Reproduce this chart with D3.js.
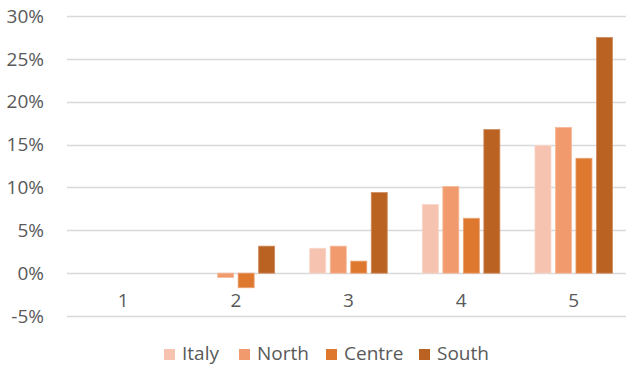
<!DOCTYPE html>
<html>
<head>
<meta charset="utf-8">
<script src="https://cdn.jsdelivr.net/npm/d3@7"></script>
<style>
  body { margin: 0; background: #fff; }
  svg { display: block; font-family: "Open Sans", Lato, sans-serif; }
</style>
</head>
<body>
<svg id="chart"></svg>
<script>
const categories = ["1", "2", "3", "4", "5"];
const seriesNames = ["Italy", "North", "Centre", "South"];
const italy  = [0, 0, 0.029, 0.080, 0.149];
const north  = [0, -0.005, 0.0315, 0.101, 0.170];
const centre = [0, -0.017, 0.014, 0.064, 0.134];
const south  = [0, 0.0315, 0.094, 0.1675, 0.275];
const yTicks = [-0.05, 0, 0.05, 0.10, 0.15, 0.20, 0.25, 0.30];

const colors = ["#F5C3B0", "#F09A6E", "#DF782F", "#B96222"];
const strokes = ["#F8D6C9", "#F5B99A", "#EBA070", "#D08A5C"];

const width = 626, height = 365;
const margin = { top: 16, right: 0, bottom: 49, left: 67 };

const svg = d3.select("#chart").attr("width", width).attr("height", height);

const values = [italy, north, centre, south];
const rows = categories.map((c, i) => ({
  cat: c,
  vals: seriesNames.map((s, j) => ({ key: s, idx: j, value: values[j][i] }))
}));

const x0 = d3.scaleBand()
  .domain(categories)
  .range([margin.left, margin.left + 5 * 112.6])
  .padding(0);

const groupW = 77.5;
const x1 = d3.scaleBand()
  .domain(seriesNames)
  .range([0, groupW])
  .paddingInner(0.22)
  .paddingOuter(0);
const groupOffset = (x0.bandwidth() - groupW) / 2;

const y = d3.scaleLinear()
  .domain([-0.05, 0.30])
  .range([316, 16]);

// gridlines
svg.append("g")
  .selectAll("line")
  .data(yTicks)
  .enter()
  .append("line")
  .attr("x1", margin.left)
  .attr("x2", width)
  .attr("y1", d => Math.round(y(d)) + 0.5)
  .attr("y2", d => Math.round(y(d)) + 0.5)
  .attr("stroke", "#D9D9D9")
  .attr("stroke-width", 1.3);

// y tick labels
svg.append("g")
  .selectAll("text")
  .data(yTicks)
  .enter()
  .append("text")
  .attr("x", 44)
  .attr("y", d => y(d))
  .attr("dy", "0.35em")
  .attr("text-anchor", "end")
  .attr("fill", "#595959")
  .style("font-size", "19px")
  .text(d => d3.format(".0%")(d).replace("−", "-"));

// bars
svg.append("g")
  .selectAll("g")
  .data(rows)
  .enter()
  .append("g")
  .attr("transform", d => `translate(${x0(d.cat) + groupOffset},0)`)
  .selectAll("rect")
  .data(d => d.vals)
  .enter()
  .append("rect")
  .attr("x", d => x1(d.key))
  .attr("y", d => y(Math.max(0, d.value)))
  .attr("width", x1.bandwidth())
  .attr("height", d => Math.abs(y(d.value) - y(0)))
  .attr("fill", d => colors[d.idx])
  .attr("stroke", d => strokes[d.idx])
  .attr("stroke-width", d => d.value === 0 ? 0 : 0.8);

// category labels
svg.append("g")
  .selectAll("text")
  .data(categories)
  .enter()
  .append("text")
  .attr("x", d => x0(d) + x0.bandwidth() / 2)
  .attr("y", 307)
  .attr("text-anchor", "middle")
  .attr("fill", "#595959")
  .style("font-size", "19px")
  .text(d => d);

// legend
const legendX = [164, 239, 326, 419];
const legend = svg.append("g")
  .selectAll("g")
  .data(seriesNames)
  .enter()
  .append("g")
  .attr("transform", (d, i) => `translate(${legendX[i]},349)`);

legend.append("rect")
  .attr("width", 11)
  .attr("height", 11)
  .attr("fill", (d, i) => colors[i]);

legend.append("text")
  .attr("x", 18)
  .attr("y", 11)
  .attr("fill", "#595959")
  .style("font-size", "19px")
  .text(d => d);
</script>
</body>
</html>
